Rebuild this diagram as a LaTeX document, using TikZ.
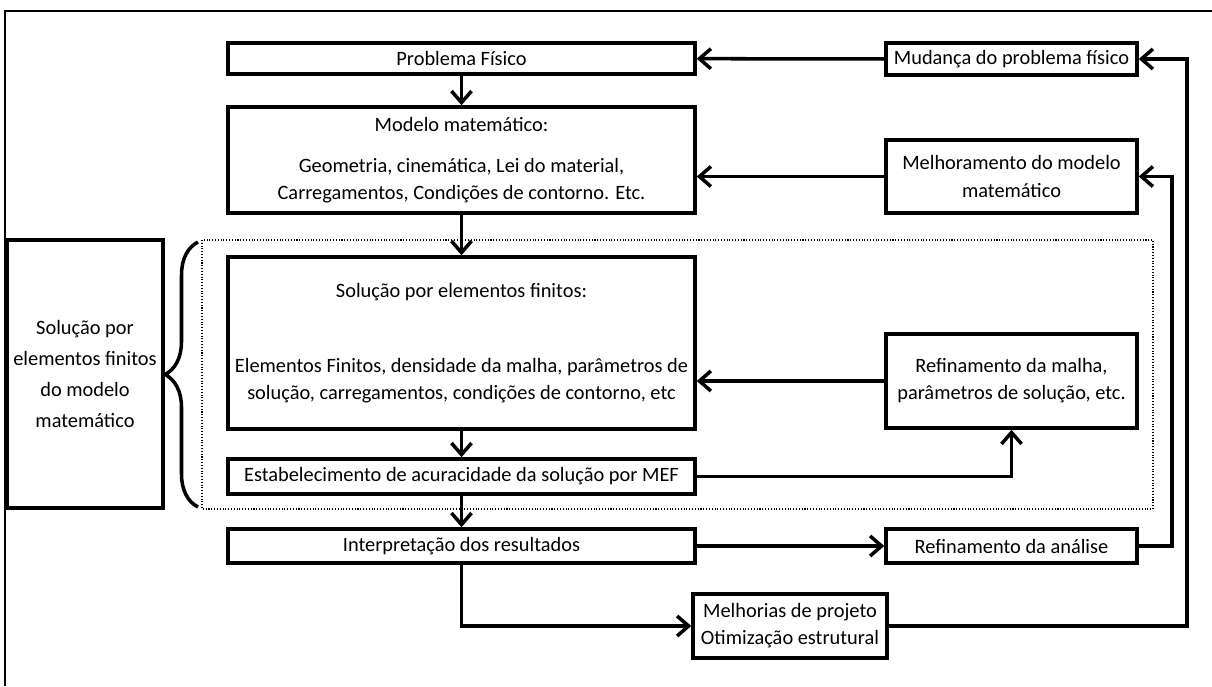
\documentclass[tikz,border=0pt]{standalone}
\usepackage{fontspec}
\setmainfont{Carlito}
\usetikzlibrary{arrows.meta,decorations.pathreplacing}

\begin{document}
\begin{tikzpicture}[x=0.02cm,y=-0.02cm,
  box/.style={draw,line width=2pt,inner sep=0pt,align=center,font=\fontsize{11.6}{15.5}\selectfont},
  arr/.style={line width=2pt,-{Straight Barb[length=2.3mm,width=4mm]}}]

\useasboundingbox (0,0) rectangle (1212,686);

% frame
\draw[line width=1.2pt] (5,686) -- (5,11) -- (1212,11);

% left column
\node[box,minimum width=9.34cm,minimum height=0.62cm] (fis) at (461.5,58.5) {Problema Físico};
\node[box,minimum width=9.34cm,minimum height=2.12cm] (mod) at (461.5,160)
  {Modelo matemático:\\[8pt] Geometria, cinemática, Lei do material,\\ Carregamentos, Condições de contorno. Etc.};
\node[box,minimum width=9.34cm,minimum height=3.44cm] (sol) at (461.5,343)
  {Solução por elementos finitos:\\[27pt] Elementos Finitos, densidade da malha, parâmetros de\\ solução, carregamentos, condições de contorno, etc};
\node[box,minimum width=9.34cm,minimum height=0.70cm] (est) at (461.5,476.5) {Estabelecimento de acuracidade da solução por MEF};
\node[box,minimum width=9.34cm,minimum height=0.68cm] (int) at (461.5,546) {Interpretação dos resultados};

% right column
\node[box,minimum width=5.02cm,minimum height=0.64cm] (mud) at (1011.5,59) {Mudança do problema físico};
\node[box,minimum width=5.02cm,minimum height=1.46cm] (mel) at (1011.5,176.5) {Melhoramento do modelo\\ matemático};
\node[box,minimum width=5.02cm,minimum height=1.88cm] (mal) at (1011.5,381) {Refinamento da malha,\\ parâmetros de solução, etc.};
\node[box,minimum width=5.02cm,minimum height=0.68cm] (ana) at (1011.5,546) {Refinamento da análise};
\node[box,minimum width=3.88cm,minimum height=1.28cm] (proj) at (790,626) {Melhorias de projeto\\ Otimização estrutural};

% side label and brace
\node[box,minimum width=3.12cm,minimum height=5.36cm,font=\fontsize{11.6}{17.5}\selectfont] (fem) at (85,374)
  {Solução por\\ elementos finitos\\ do modelo\\ matemático};
\draw[densely dotted,line width=0.6pt] (202,240) rectangle (1153,509);
\draw[line width=2pt,decorate,decoration={brace,amplitude=0.66cm}] (198,507) -- (198,242);

% connectors
\draw[arr] (fis) -- (mod);
\draw[arr] (mod) -- (sol);
\draw[arr] (sol) -- (est);
\draw[arr] (est) -- (int);
\draw[arr] (mud) -- (fis);
\draw[arr] (mel.west) -- (mel.west -| mod.east);
\draw[arr] (mal.west) -- (mal.west -| sol.east);
\draw[arr] (est.east) -| (mal.south);
\draw[arr] (int) -- (ana);
\draw[arr] (ana.east) -- ++(33,0) |- (mel.east);
\draw[arr] (int.south) |- (proj.west);
\coordinate (rb) at (1187,0);
\draw[arr] (proj.east) -- (proj.east -| rb) |- (mud.east);

\end{tikzpicture}
\end{document}
